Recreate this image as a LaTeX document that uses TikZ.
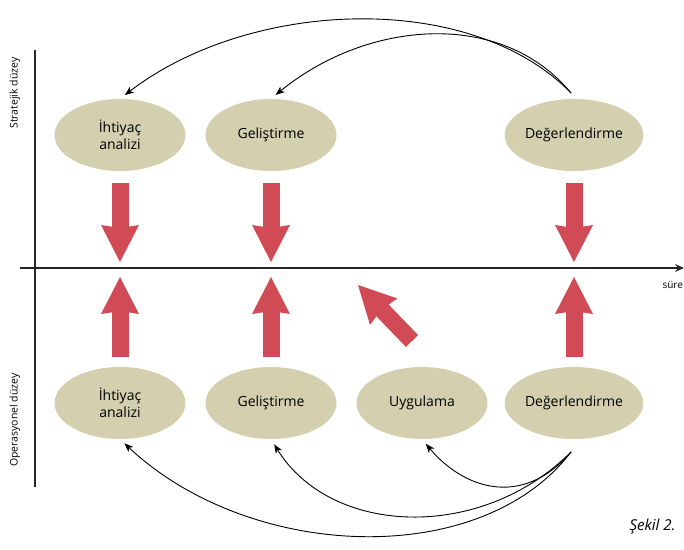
\documentclass[tikz,border=0pt]{standalone}
\usepackage{fontspec}
\setmainfont{Open Sans}
\usetikzlibrary{shapes.geometric,arrows.meta}
\definecolor{khaki}{HTML}{D4D0AF}
\definecolor{arrowred}{HTML}{D14B57}
\tikzset{
  stage/.style={ellipse, fill=khaki, minimum width=131pt, minimum height=72pt,
    inner sep=0pt, align=center, font=\fontsize{14}{17}\selectfont},
  blockarrow/.style={draw=arrowred, line width=17pt,
    -{Stealth[length=37pt, width=38pt, inset=3pt, line width=0pt]}},
  flow/.style={black, line width=0.9pt, shorten >=6pt,
    -{Stealth[length=9pt, width=7pt, inset=2.5pt]}},
  axislabel/.style={rotate=90, font=\fontsize{10.5}{12}\selectfont}
}
\begin{document}
\begin{tikzpicture}[x=1pt, y=-1pt, line join=round, >=stealth]
\useasboundingbox (0,0) rectangle (684,549);
% axes
\draw[line width=1.1pt, black!85] (35,50) -- (35,487);
\draw[line width=1.1pt, black!85, -{Stealth[length=9pt, width=8pt]}] (20,268) -- (684,268);
\node[anchor=west, font=\fontsize{10}{12}\selectfont] (sure) at (659,285) {süre};
\node[axislabel] (strat) at (15,93) {Stratejik düzey};
\node[axislabel] (oper) at (15,420) {Operasyonel düzey};
\node[anchor=west, font=\fontsize{15}{18}\selectfont\itshape] (sekil) at (626,527) {Şekil 2.};
% stages
\node[stage] (ia1) at (120,135) {İhtiyaç\\analizi};
\node[stage] (ge1) at (271,135) {Geliştirme};
\node[stage] (de1) at (574,135) {Değerlendirme};
\node[stage] (ia2) at (120,403) {İhtiyaç\\analizi};
\node[stage] (ge2) at (271,403) {Geliştirme};
\node[stage] (uy2) at (422,403) {Uygulama};
\node[stage] (de2) at (574,403) {Değerlendirme};
% red arrows
\foreach \p in {ia1,ge1,de1}{
  \draw[blockarrow] ([yshift=-48pt]\p.center) -- ([yshift=-127pt]\p.center);}
\foreach \p in {ia2,ge2,de2}{
  \draw[blockarrow] ([yshift=46pt]\p.center) -- ([yshift=126pt]\p.center);}
\draw[blockarrow] ([shift={(-10pt,62pt)}]uy2.center) -- ([shift={(-64pt,118pt)}]uy2.center);
% feedback
\coordinate (top) at ([shift={(-3pt,42pt)}]de1.center);
\coordinate (bot) at ([shift={(-3pt,-49pt)}]de2.center);
\draw[flow] (top) .. controls +(-100,-103) and +(130,-100) .. (ia1.north);
\draw[flow] (top) .. controls +(-70,-85) and +(95,-78) .. (ge1.north);
\draw[flow] (bot) .. controls +(-90,118) and +(130,122) .. (ia2.south);
\draw[flow] (bot) .. controls +(-90,90) and +(60,97) .. (ge2.south);
\draw[flow] (bot) .. controls +(-50,58) and +(40,48) .. (uy2.south);
\end{tikzpicture}
\end{document}
